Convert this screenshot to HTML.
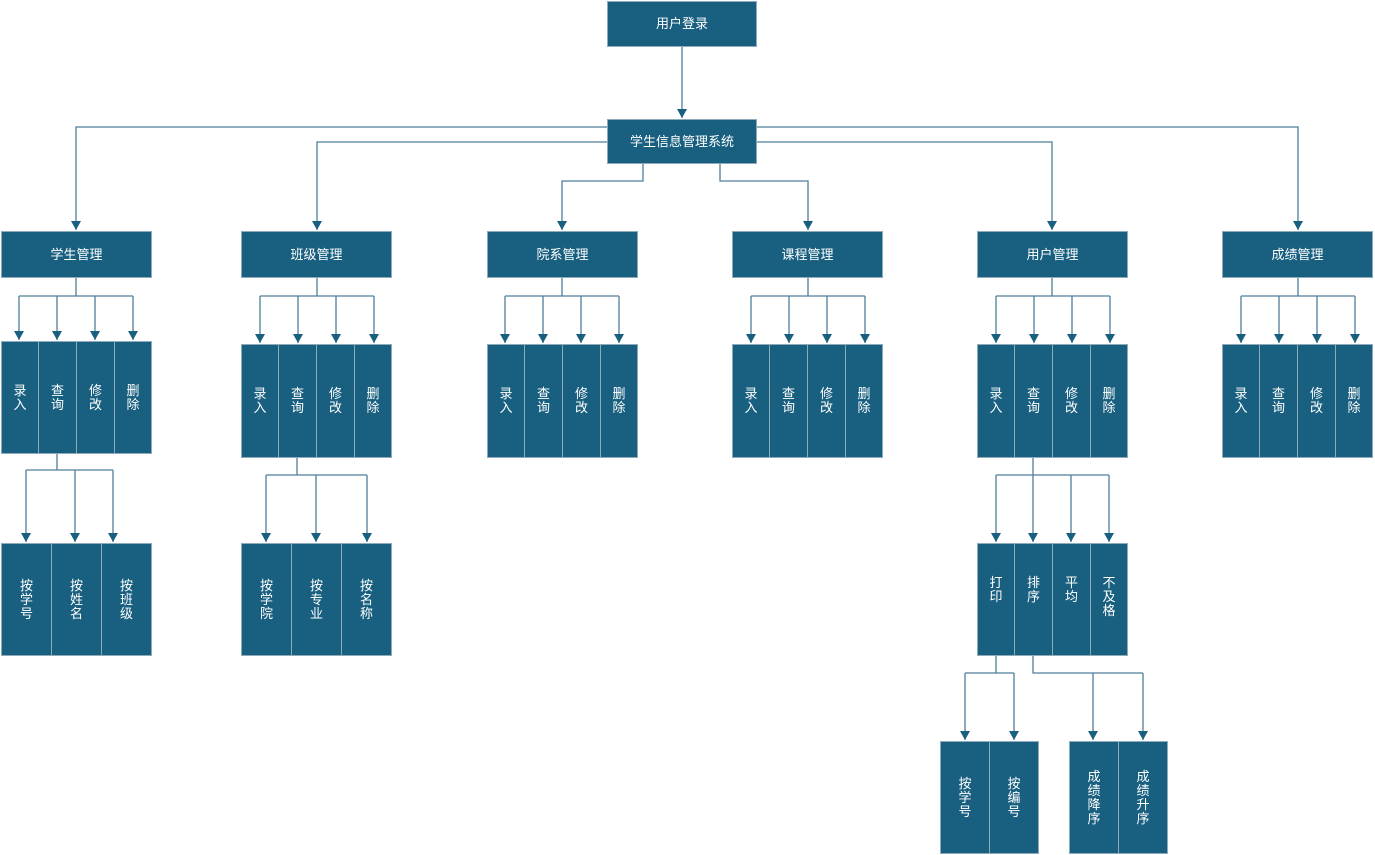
<!DOCTYPE html>
<html><head><meta charset="utf-8"><style>
body{margin:0;width:1375px;height:855px;background:#fff;position:relative;overflow:hidden;font-family:"Liberation Sans","Noto Sans CJK SC",sans-serif}
.b{position:absolute;background:#185f80;border:1px solid #8eaabb;box-sizing:border-box;color:#fff;font-size:13px;display:flex;align-items:center;justify-content:center;text-align:center;line-height:14px}
svg{position:absolute;left:0;top:0}
</style></head><body>
<svg width="1375" height="855">
<defs><marker id="a" markerWidth="12" markerHeight="12" refX="9" refY="5" orient="auto" markerUnits="userSpaceOnUse"><path d="M0,0 L9,5 L0,10 z" fill="#185f80"/></marker></defs>
<g stroke="#4f7f9c" stroke-width="1.3" fill="none">
<path d="M682,47 V118" marker-end="url(#a)"/>
<path d="M607,127 H76 V230" marker-end="url(#a)"/>
<path d="M757,127 H1298 V230" marker-end="url(#a)"/>
<path d="M607,142 H317 V230" marker-end="url(#a)"/>
<path d="M757,142 H1052 V230" marker-end="url(#a)"/>
<path d="M643,164 V181 H562 V230" marker-end="url(#a)"/>
<path d="M720,164 V181 H808 V230" marker-end="url(#a)"/>
<path d="M76,278 V296 M19,296 H133"/>
<path d="M19,296 V340" marker-end="url(#a)"/><path d="M57,296 V340" marker-end="url(#a)"/><path d="M95,296 V340" marker-end="url(#a)"/><path d="M133,296 V340" marker-end="url(#a)"/>
<path d="M317,278 V296 M260,296 H374"/>
<path d="M260,296 V343" marker-end="url(#a)"/><path d="M298,296 V343" marker-end="url(#a)"/><path d="M336,296 V343" marker-end="url(#a)"/><path d="M374,296 V343" marker-end="url(#a)"/>
<path d="M562,278 V296 M505,296 H619"/>
<path d="M505,296 V343" marker-end="url(#a)"/><path d="M543,296 V343" marker-end="url(#a)"/><path d="M581,296 V343" marker-end="url(#a)"/><path d="M619,296 V343" marker-end="url(#a)"/>
<path d="M808,278 V296 M751,296 H865"/>
<path d="M751,296 V343" marker-end="url(#a)"/><path d="M789,296 V343" marker-end="url(#a)"/><path d="M827,296 V343" marker-end="url(#a)"/><path d="M865,296 V343" marker-end="url(#a)"/>
<path d="M1052,278 V296 M996,296 H1110"/>
<path d="M996,296 V343" marker-end="url(#a)"/><path d="M1034,296 V343" marker-end="url(#a)"/><path d="M1072,296 V343" marker-end="url(#a)"/><path d="M1110,296 V343" marker-end="url(#a)"/>
<path d="M1298,278 V296 M1241,296 H1355"/>
<path d="M1241,296 V343" marker-end="url(#a)"/><path d="M1279,296 V343" marker-end="url(#a)"/><path d="M1317,296 V343" marker-end="url(#a)"/><path d="M1355,296 V343" marker-end="url(#a)"/>
<path d="M57,453 V470 M26,470 H113"/>
<path d="M26,470 V542" marker-end="url(#a)"/><path d="M75,470 V542" marker-end="url(#a)"/><path d="M113,470 V542" marker-end="url(#a)"/>
<path d="M297,457 V475 M266,475 H367"/>
<path d="M266,475 V542" marker-end="url(#a)"/><path d="M316,475 V542" marker-end="url(#a)"/><path d="M367,475 V542" marker-end="url(#a)"/>
<path d="M1033,457 V475 M996,475 H1109"/>
<path d="M996,475 V542" marker-end="url(#a)"/><path d="M1033,475 V542" marker-end="url(#a)"/><path d="M1071,475 V542" marker-end="url(#a)"/><path d="M1109,475 V542" marker-end="url(#a)"/>
<path d="M996,655 V673 M965,673 H1014"/>
<path d="M965,673 V740" marker-end="url(#a)"/><path d="M1014,673 V740" marker-end="url(#a)"/>
<path d="M1033,655 V673 H1143"/>
<path d="M1093,673 V740" marker-end="url(#a)"/><path d="M1143,673 V740" marker-end="url(#a)"/>
</g></svg>
<div class="b" style="left:607px;top:1px;width:150px;height:46px">用户登录</div>
<div class="b" style="left:607px;top:119px;width:150px;height:45px">学生信息管理系统</div>
<div class="b" style="left:1px;top:231px;width:151px;height:47px">学生管理</div>
<div class="b" style="left:241px;top:231px;width:151px;height:47px">班级管理</div>
<div class="b" style="left:487px;top:231px;width:151px;height:47px">院系管理</div>
<div class="b" style="left:732px;top:231px;width:151px;height:47px">课程管理</div>
<div class="b" style="left:977px;top:231px;width:151px;height:47px">用户管理</div>
<div class="b" style="left:1222px;top:231px;width:151px;height:47px">成绩管理</div>

<div class="b" style="left:1px;top:341px;width:38px;height:113px">录<br>入</div>
<div class="b" style="left:38px;top:341px;width:39px;height:113px">查<br>询</div>
<div class="b" style="left:76px;top:341px;width:39px;height:113px">修<br>改</div>
<div class="b" style="left:114px;top:341px;width:38px;height:113px">删<br>除</div>

<div class="b" style="left:241px;top:344px;width:38px;height:114px">录<br>入</div>
<div class="b" style="left:278px;top:344px;width:39px;height:114px">查<br>询</div>
<div class="b" style="left:316px;top:344px;width:39px;height:114px">修<br>改</div>
<div class="b" style="left:354px;top:344px;width:38px;height:114px">删<br>除</div>

<div class="b" style="left:487px;top:344px;width:38px;height:114px">录<br>入</div>
<div class="b" style="left:524px;top:344px;width:39px;height:114px">查<br>询</div>
<div class="b" style="left:562px;top:344px;width:39px;height:114px">修<br>改</div>
<div class="b" style="left:600px;top:344px;width:38px;height:114px">删<br>除</div>

<div class="b" style="left:732px;top:344px;width:38px;height:114px">录<br>入</div>
<div class="b" style="left:769px;top:344px;width:39px;height:114px">查<br>询</div>
<div class="b" style="left:807px;top:344px;width:39px;height:114px">修<br>改</div>
<div class="b" style="left:845px;top:344px;width:38px;height:114px">删<br>除</div>

<div class="b" style="left:977px;top:344px;width:38px;height:114px">录<br>入</div>
<div class="b" style="left:1014px;top:344px;width:39px;height:114px">查<br>询</div>
<div class="b" style="left:1052px;top:344px;width:39px;height:114px">修<br>改</div>
<div class="b" style="left:1090px;top:344px;width:38px;height:114px">删<br>除</div>

<div class="b" style="left:1222px;top:344px;width:38px;height:114px">录<br>入</div>
<div class="b" style="left:1259px;top:344px;width:39px;height:114px">查<br>询</div>
<div class="b" style="left:1297px;top:344px;width:39px;height:114px">修<br>改</div>
<div class="b" style="left:1335px;top:344px;width:38px;height:114px">删<br>除</div>

<div class="b" style="left:1px;top:543px;width:51px;height:113px">按<br>学<br>号</div>
<div class="b" style="left:51px;top:543px;width:51px;height:113px">按<br>姓<br>名</div>
<div class="b" style="left:101px;top:543px;width:51px;height:113px">按<br>班<br>级</div>

<div class="b" style="left:241px;top:543px;width:51px;height:113px">按<br>学<br>院</div>
<div class="b" style="left:291px;top:543px;width:51px;height:113px">按<br>专<br>业</div>
<div class="b" style="left:341px;top:543px;width:51px;height:113px">按<br>名<br>称</div>

<div class="b" style="left:977px;top:543px;width:38px;height:113px;padding-bottom:20px">打<br>印</div>
<div class="b" style="left:1014px;top:543px;width:39px;height:113px;padding-bottom:20px">排<br>序</div>
<div class="b" style="left:1052px;top:543px;width:39px;height:113px;padding-bottom:20px">平<br>均</div>
<div class="b" style="left:1090px;top:543px;width:38px;height:113px;padding-bottom:5px">不<br>及<br>格</div>

<div class="b" style="left:940px;top:741px;width:50px;height:113px">按<br>学<br>号</div>
<div class="b" style="left:989px;top:741px;width:50px;height:113px">按<br>编<br>号</div>
<div class="b" style="left:1069px;top:741px;width:50px;height:113px">成<br>绩<br>降<br>序</div>
<div class="b" style="left:1118px;top:741px;width:50px;height:113px">成<br>绩<br>升<br>序</div>
</body></html>
